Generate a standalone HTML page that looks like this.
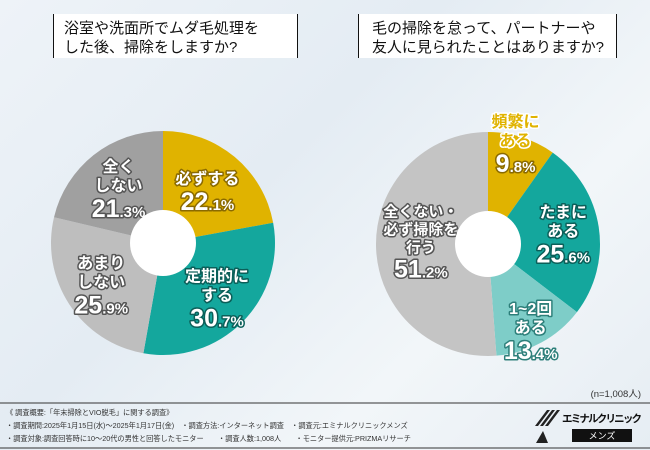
<!DOCTYPE html>
<html><head><meta charset="utf-8"><style>
body{margin:0;width:650px;height:450px;overflow:hidden;font-family:"Liberation Sans","Noto Sans CJK JP",sans-serif;}
#bg{position:absolute;left:0;top:0;width:650px;height:450px;background:linear-gradient(135deg,#eef3f8,#e4ecf3 40%,#f2f6f9 70%,#e6edf3);}
svg{position:absolute;left:0;top:0}
</style></head><body>
<div id="bg"></div>
<svg width="650" height="450" id="chart">
<g>
<rect x="53" y="14" width="245" height="44" fill="#fff"/>
<line x1="53.5" y1="14" x2="53.5" y2="58" stroke="#111"/>
<line x1="297.5" y1="14" x2="297.5" y2="58" stroke="#111"/>
<text x="64" y="33" font-size="15" fill="#111">浴室や洗面所でムダ毛処理を</text>
<text x="64" y="52" font-size="15" fill="#111">した後、掃除をしますか?</text>
</g>
<g>
<rect x="358" y="14" width="259" height="44" fill="#fff"/>
<line x1="358.5" y1="14" x2="358.5" y2="58" stroke="#111"/>
<line x1="616.5" y1="14" x2="616.5" y2="58" stroke="#111"/>
<text x="372" y="33" font-size="15" fill="#111">毛の掃除を怠って、パートナーや</text>
<text x="372" y="52" font-size="15" fill="#111" textLength="232">友人に見られたことはありますか?</text>
</g>
<g id="pies"></g>
<text x="641" y="397" font-size="9.5" fill="#333" text-anchor="end">(n=1,008人)</text>
<line x1="0" y1="403" x2="650" y2="403" stroke="#333"/>
<line x1="0" y1="448" x2="650" y2="448" stroke="#333"/>
<g font-size="7.2" fill="#333">
<text x="6" y="415">《 調査概要:「年末掃除とVIO脱毛」に関する調査》</text>
<text x="6" y="428">・調査期間:2025年1月15日(水)～2025年1月17日(金)　・調査方法:インターネット調査　・調査元:エミナルクリニックメンズ</text>
<text x="6" y="441">・調査対象:調査回答時に10～20代の男性と回答したモニター　　・調査人数:1,008人　　・モニター提供元:PRIZMAリサーチ</text>
</g>
<g>
<path d="M540 426 L552 410 L555 410 L543 426 Z M545 426 L557 410 L560 410 L548 426Z M535 426 L547 410 L550 410 L538 426Z" fill="#222"/>
<path d="M536 443 L543 431 L548 443Z" fill="#222"/>
<text x="562" y="422" font-size="10.5" font-weight="bold" fill="#111" textLength="80">エミナルクリニック</text>
<rect x="572" y="429" width="60" height="13" fill="#111"/>
<text x="602" y="439" font-size="9" fill="#fff" text-anchor="middle">メンズ</text>
</g>
</svg>
<script>
const labels1=["必ずする","定期的に\nする","あまり\nしない","全く\nしない"];
const values1=[22.1,30.7,25.9,21.3];
const labels2=["頻繁に\nある","たまに\nある","1~2回\nある","全くない・\n必ず掃除を\n行う"];
const values2=[9.8,25.6,13.4,51.2];
const NS="http://www.w3.org/2000/svg";
const g=document.getElementById('pies');
function mk(t,a){const e=document.createElementNS(NS,t);for(const k in a)e.setAttribute(k,a[k]);return e;}
function pie(cx,cy,r,hr,vals,labs,colors,labelCfg,prefix){
  const total=vals.reduce((a,b)=>a+b,0);let a0=0;
  vals.forEach((v,i)=>{
    const a1=a0+v/total*2*Math.PI;
    const p=(a)=>[cx+r*Math.sin(a),cy-r*Math.cos(a)];
    const [x0,y0]=p(a0),[x1,y1]=p(a1);
    const large=(a1-a0)>Math.PI?1:0;
    const path=mk('path',{d:`M${cx},${cy} L${x0},${y0} A${r},${r} 0 ${large} 1 ${x1},${y1} Z`,fill:colors[i]});
    
    
    g.appendChild(path);
    const mid=(a0+a1)/2;const c=labelCfg[i];
    const lr=c.r*r;let lx=cx+lr*Math.sin(mid)+(c.dx||0),ly=cy-lr*Math.cos(mid);
    const lines=labs[i].split('\n');
    const fs=c.fs||16, lh=fs+3;
    const tg=mk('g',{'text-anchor':'middle','font-weight':'bold','paint-order':'stroke','stroke-linejoin':'round'});
    
    
    const n=lines.length;let y=ly-(n*lh+24)/2+fs+(c.dy||0);
    lines.forEach(l=>{const t=mk('text',{x:lx,y:y,'font-size':fs,fill:c.fill,stroke:c.stroke,'stroke-width':c.sw||3});t.textContent=l;tg.appendChild(t);y+=lh;});
    const s=String(v).split('.');
    const t=mk('text',{x:lx,y:y+7,fill:c.pfill||c.fill,stroke:c.pstroke||c.stroke,'stroke-width':3});
    const t1=mk('tspan',{'font-size':25});t1.textContent=s[0];
    const t2=mk('tspan',{'font-size':15});t2.textContent='.'+s[1]+'%';
    t.appendChild(t1);t.appendChild(t2);tg.appendChild(t);
    g.appendChild(tg);
    a0=a1;
  });
  const h=mk('circle',{cx:cx,cy:cy,r:hr,fill:'#fff'});
  
  
  g.appendChild(h);
}
const W='#fff';
pie(163,243,112,33,values1,labels1,['#e0b300','#14a79d','#bebebe','#a0a0a0'],[
 {r:0.62,fill:W,stroke:'#8a6a00'},{r:0.68,fill:W,stroke:'#0b5f59'},{r:0.66,fill:W,stroke:'#555'},{r:0.64,fill:W,stroke:'#555'}],'pie1');
pie(488,244,112,33,values2,labels2,['#e0b300','#14a79d','#7ecdc8','#c4c4c4'],[
 {r:0.9,fill:'#e0b300',stroke:W,pfill:W,pstroke:'#8a6a00',dy:-6,dx:-3},{r:0.68,fill:W,stroke:'#0b5f59'},{r:0.8,fill:W,stroke:'#2d7f7a',dy:6},{r:0.6,fill:W,stroke:'#555',dy:-6,dx:0,fs:15}],'pie2');
</script>
</body></html>
